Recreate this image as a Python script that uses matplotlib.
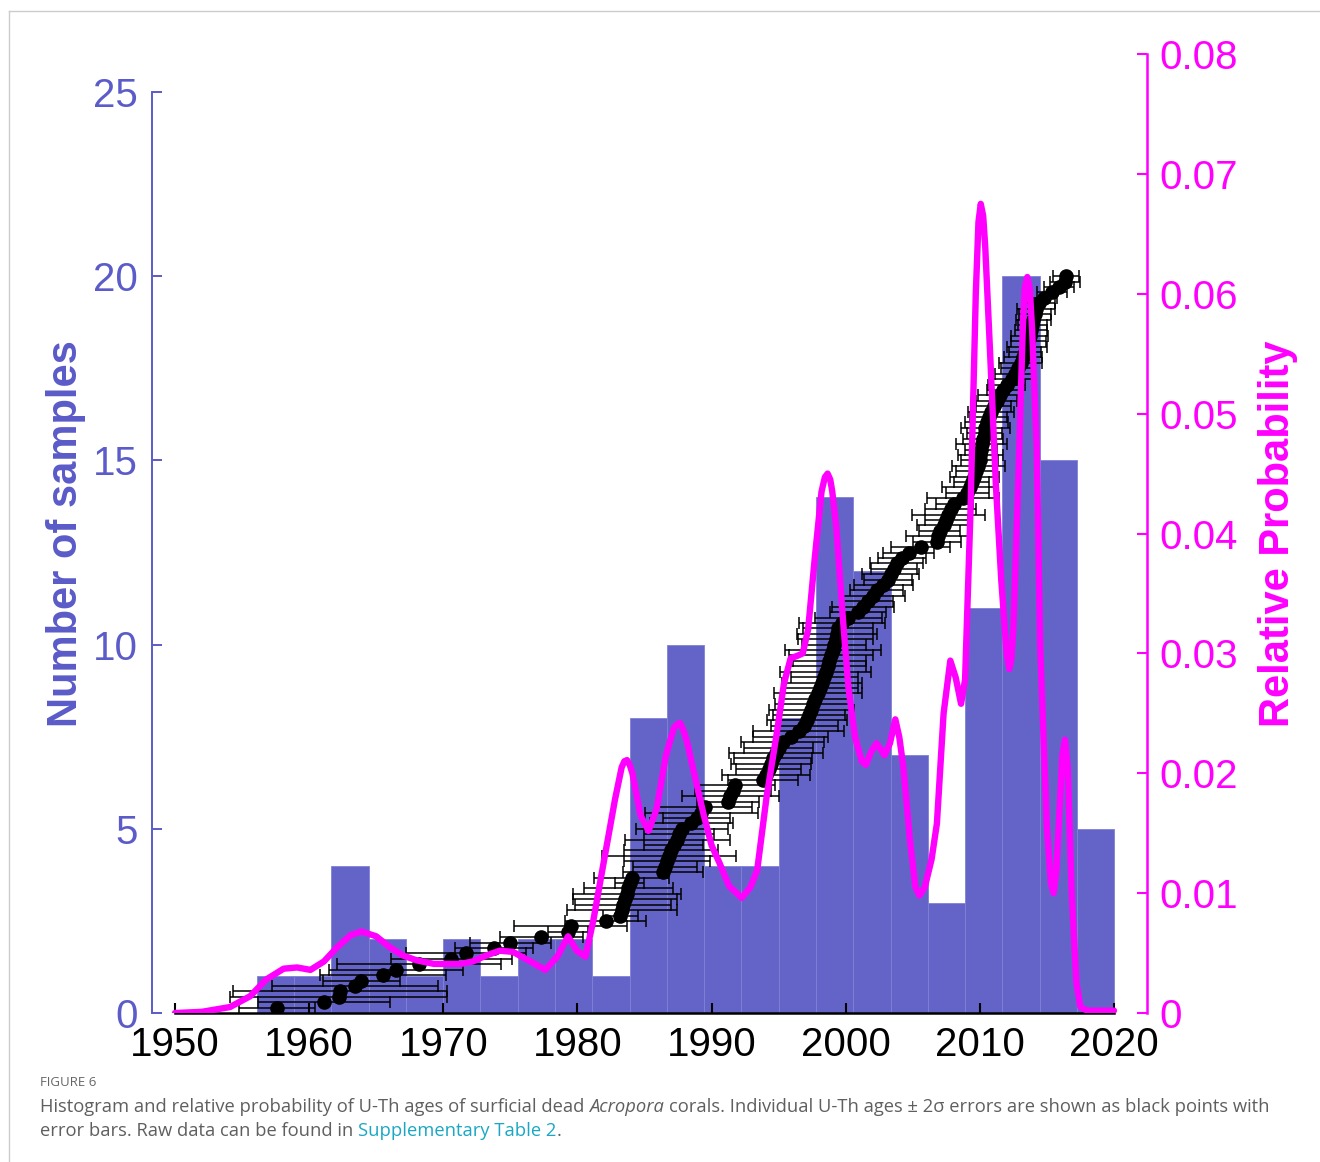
import numpy as np
import matplotlib
matplotlib.use("Agg")
import matplotlib.pyplot as plt
from matplotlib.lines import Line2D
from matplotlib.offsetbox import TextArea, HPacker, AnchoredOffsetbox

plt.rcParams['font.family'] = ['Liberation Sans', 'DejaVu Sans']

# histogram of U-Th ages
bin_edges = [1956.1, 1958.88, 1961.66, 1964.44, 1967.22, 1970.0, 1972.77, 1975.55,
             1978.33, 1981.11, 1983.89, 1986.67, 1989.45, 1992.23, 1995.01, 1997.79,
             2000.57, 2003.35, 2006.13, 2008.91, 2011.69, 2014.47, 2017.25, 2020.03]
counts = [1, 1, 4, 2, 1, 2, 1, 2, 2, 1, 8, 10, 4, 4, 8, 14, 12, 7, 3, 11, 20, 15, 5]

# individual ages (sorted) and 2 sigma errors
ages = [1957.6, 1961.1, 1962.2, 1962.3, 1963.4, 1963.9, 1965.5, 1966.5, 1968.2, 1970.6,
        1971.7, 1973.8, 1975.0, 1977.3, 1979.3, 1979.5, 1982.1, 1983.2, 1983.3, 1983.4,
        1983.55, 1983.7, 1983.8, 1983.9, 1984.05, 1986.4, 1986.55, 1986.7, 1986.85, 1987.0,
        1987.2, 1987.45, 1987.6, 1987.8, 1988.5, 1988.9, 1989.25, 1989.5, 1991.25, 1991.4,
        1991.6, 1991.75, 1993.85, 1994.05, 1994.25, 1994.45, 1994.6, 1994.8, 1995.0, 1995.3,
        1995.9, 1996.5, 1996.9, 1997.1, 1997.25, 1997.45, 1997.6, 1997.75, 1997.95, 1998.1,
        1998.25, 1998.4, 1998.5, 1998.65, 1998.78, 1998.9, 1999.05, 1999.15, 1999.25, 1999.35,
        1999.45, 1999.7, 2000.2, 2000.9, 2001.3, 2001.65, 2002.0, 2002.3, 2002.8, 2003.15,
        2003.35, 2003.6, 2003.8, 2004.2, 2004.7, 2005.6, 2006.8, 2006.9, 2007.0, 2007.3,
        2007.5, 2007.65, 2007.85, 2008.1, 2008.75, 2009.05, 2009.25, 2009.4, 2009.6, 2009.75,
        2009.9, 2009.98, 2010.05, 2010.1, 2010.15, 2010.25, 2010.35, 2010.42, 2010.5, 2010.65,
        2010.85, 2011.05, 2011.25, 2011.5, 2011.75, 2012.0, 2012.4, 2012.65, 2012.85, 2013.05,
        2013.2, 2013.38, 2013.5, 2013.6, 2013.72, 2013.83, 2013.92, 2014.0, 2014.1, 2014.2,
        2014.4, 2014.75, 2015.4, 2015.9, 2016.35, 2016.42]
errs = [2.8, 4.9, 8.1, 8.0, 6.2, 2.9, 4.7, 5.0, 6.1, 4.5,
        4.5, 2.9, 3.0, 3.1, 1.5, 4.2, 3.0, 1.3, 4.1, 3.6,
        3.9, 4.0, 3.3, 1.1, 2.8, 3.0, 2.4, 3.2, 5.0, 3.5,
        2.2, 3.9, 2.6, 3.4, 3.1, 2.5, 4.2, 3.5, 2.3, 3.6,
        2.8, 3.0, 2.6, 3.3, 2.4, 3.0, 2.9, 3.5, 2.6, 3.1,
        2.8, 3.4, 2.5, 3.0, 2.7, 3.2, 2.9, 2.6, 3.3, 2.8,
        3.0, 2.5, 3.4, 2.9, 2.7, 3.1, 3.6, 2.4, 2.8, 3.0,
        2.6, 3.2, 2.5, 2.1, 2.3, 1.9, 2.4, 2.0, 2.2, 1.8,
        2.1, 1.7, 2.0, 1.8, 1.9, 2.2, 1.8, 2.4, 1.5, 2.0,
        1.6, 2.7, 1.9, 1.4, 2.7, 1.6, 2.1, 1.3, 1.8, 1.5,
        2.0, 1.4, 1.7, 1.2, 1.9, 1.5, 1.3, 1.8, 1.6, 1.4,
        1.7, 1.3, 1.5, 1.6, 1.2, 1.4, 1.7, 1.5, 1.3, 1.6,
        1.4, 1.2, 1.5, 1.3, 1.4, 1.2, 1.1, 1.3, 1.2, 1.4,
        1.2, 1.0, 1.1, 1.1, 1.1, 1.0]

# relative probability curve
prob_year = [1950.0, 1952.0, 1954.1, 1955.6, 1956.8, 1958.1, 1959.1, 1960.1, 1961.1, 1962.1,
             1963.1, 1963.9, 1965.0, 1966.0, 1967.0, 1968.0, 1969.3, 1970.5, 1971.3, 1972.2,
             1973.2, 1974.2, 1975.2, 1976.5, 1977.6, 1978.5, 1979.3, 1979.95, 1980.6, 1981.2,
             1981.9, 1982.8, 1983.3, 1983.5, 1983.7, 1983.9, 1984.1, 1984.7, 1985.3, 1985.9,
             1986.6, 1987.2, 1987.45, 1987.65, 1987.9, 1988.2, 1988.8, 1989.4, 1990.0, 1990.6,
             1991.3, 1992.25, 1992.9, 1993.4, 1994.1, 1994.9, 1995.4, 1995.9, 1996.4, 1996.8,
             1997.2, 1997.7, 1998.2, 1998.45, 1998.65, 1998.85, 1999.0, 1999.3, 1999.8, 2000.2,
             2000.7, 2001.2, 2001.5, 2001.9, 2002.3, 2002.9, 2003.3, 2003.7, 2004.0, 2004.3,
             2004.8, 2005.2, 2005.5, 2005.9, 2006.4, 2006.8, 2007.3, 2007.8, 2008.2, 2008.6,
             2008.9, 2009.3, 2009.7, 2009.9, 2010.07, 2010.25, 2010.4, 2010.75, 2011.2, 2011.6,
             2012.0, 2012.2, 2012.35, 2012.5, 2012.87, 2013.2, 2013.35, 2013.54, 2013.72, 2013.9,
             2014.24, 2014.5, 2015.0, 2015.3, 2015.5, 2015.7, 2015.9, 2016.15, 2016.35, 2016.55,
             2016.85, 2017.2, 2017.5, 2018.0, 2020.0]
prob = [0.0, 0.0001, 0.0005, 0.0014, 0.0028, 0.0037, 0.0038, 0.0036, 0.0043, 0.0055,
        0.0065, 0.0068, 0.0064, 0.0055, 0.0048, 0.0044, 0.0041, 0.0041, 0.0041, 0.0043,
        0.0048, 0.0052, 0.0051, 0.0043, 0.0036, 0.0047, 0.0064, 0.0052, 0.0047, 0.0078,
        0.0122, 0.0178, 0.0205, 0.0210, 0.0211, 0.0207, 0.0200, 0.0165, 0.0152, 0.0170,
        0.0215, 0.0238, 0.0241, 0.0242, 0.0236, 0.0225, 0.0195, 0.0166, 0.0140, 0.0125,
        0.0106, 0.0096, 0.0105, 0.0119, 0.0180, 0.0236, 0.0275, 0.0296, 0.0298, 0.0300,
        0.0320, 0.0380, 0.0435, 0.0447, 0.0450, 0.0445, 0.0435, 0.0405, 0.0328, 0.0272,
        0.0230, 0.0210, 0.0207, 0.0218, 0.0225, 0.0215, 0.0225, 0.0245, 0.0230, 0.0205,
        0.0143, 0.0105, 0.0098, 0.0105, 0.0128, 0.0158, 0.0250, 0.0294, 0.0280, 0.0258,
        0.0278, 0.0417, 0.0600, 0.0660, 0.0675, 0.0665, 0.0640, 0.0555, 0.0440, 0.0361,
        0.0300, 0.0287, 0.0295, 0.0320, 0.0444, 0.0570, 0.0605, 0.0614, 0.0605, 0.0570,
        0.0472, 0.0305, 0.0155, 0.0108, 0.0100, 0.0118, 0.0160, 0.0215, 0.0228, 0.0205,
        0.0100, 0.0025, 0.0005, 0.0002, 0.0002]

blue = '#5b5bc9'
bar_col = '#6464c8'
mag = '#ff00ff'

fig = plt.figure(figsize=(13.2, 11.62), dpi=100)
ax = fig.add_axes([0.1152, 0.1282, 0.7537, 0.8253])

edges = np.array(bin_edges)
ax.bar(edges[:-1], counts, width=np.diff(edges), align='edge',
       color=bar_col, edgecolor='#8080d6', linewidth=0.6, zorder=1)

n = len(ages)
rank_y = np.arange(1, n + 1) * 20.0 / n
ax.errorbar(ages, rank_y, xerr=errs, fmt='o', color='k', ms=9.5,
            elinewidth=1.1, capsize=4, capthick=1.1, zorder=3)

ax.set_xlim(1948.29, 2022.46)
ax.set_ylim(0, 26.03)
ax.set_xticks(range(1950, 2021, 10))
ax.set_yticks(range(0, 26, 5))
ax.spines['top'].set_visible(False)
ax.spines['right'].set_visible(False)
ax.spines['bottom'].set_bounds(1950, 2020)
ax.spines['bottom'].set_linewidth(1.8)
ax.spines['left'].set_bounds(0, 25)
ax.spines['left'].set_color(blue)
ax.spines['left'].set_linewidth(1.4)
ax.tick_params(axis='x', direction='in', length=7, width=1.5, labelsize=29,
               pad=9, colors='k')
ax.tick_params(axis='y', direction='in', length=7, width=1.4, labelsize=29,
               pad=10, colors=blue)
ax.set_ylabel('Number of samples', fontsize=30, fontweight='bold', color=blue)
ax.yaxis.set_label_coords(-0.0664, 0.5)

ax2 = ax.twinx()
ax2.plot(prob_year, prob, color=mag, lw=4.6, solid_capstyle='round',
         solid_joinstyle='round')
ax2.set_ylim(0, 0.08)
ax2.set_yticks(np.arange(0, 0.081, 0.01))
ax2.set_yticklabels(['0', '0.01', '0.02', '0.03', '0.04', '0.05', '0.06', '0.07', '0.08'])
for s in ['top', 'left', 'bottom']:
    ax2.spines[s].set_visible(False)
ax2.spines['right'].set_color(mag)
ax2.spines['right'].set_linewidth(1.8)
ax2.spines['right'].set_bounds(0, 0.08)
ax2.tick_params(axis='y', direction='in', length=7, width=1.5, labelsize=29,
                pad=9, colors=mag)
ax2.set_ylabel('Relative Probability', fontsize=30, fontweight='bold', color=mag)
ax2.yaxis.set_label_coords(1.1116, 0.5)

# page frame
fig.add_artist(Line2D([9 / 1320, 1], [1 - 11 / 1162, 1 - 11 / 1162],
                      transform=fig.transFigure, color='#cccccc', lw=1))
fig.add_artist(Line2D([9 / 1320, 9 / 1320], [0, 1 - 11 / 1162],
                      transform=fig.transFigure, color='#cccccc', lw=1))

# caption
cap = dict(family=['Open Sans', 'DejaVu Sans'], size=13.2, color='#5f5f5f')


def piece(s, **kw):
    p = dict(cap)
    p.update(kw)
    return TextArea(s, textprops=p)


fig.text(40 / 1320, 1 - 1083 / 1162, 'FIGURE 6', fontsize=9.5, color='#666666',
         family=['Open Sans', 'DejaVu Sans'], va='center', ha='left')

sp = 3.5
line1 = HPacker(children=[piece('Histogram and relative probability of U-Th ages of surficial dead'),
                          piece('Acropora', style='italic'),
                          piece('corals. Individual U-Th ages \u00b1 2\u03c3 errors are shown as black points with')],
                sep=sp, pad=0, align='baseline')
line2 = HPacker(children=[HPacker(children=[piece('error bars. Raw data can be found in'),
                                            piece('Supplementary Table 2', color='#1aa7c4')],
                                  sep=sp, pad=0, align='baseline'),
                          piece('.')],
                sep=0, pad=0, align='baseline')
for child, yc in [(line1, 1107), (line2, 1131)]:
    box = AnchoredOffsetbox(loc='center left', child=child, pad=0, borderpad=0,
                            frameon=False, bbox_to_anchor=(40 / 1320, 1 - yc / 1162),
                            bbox_transform=fig.transFigure)
    fig.add_artist(box)

fig.savefig('out.png', dpi=100)
